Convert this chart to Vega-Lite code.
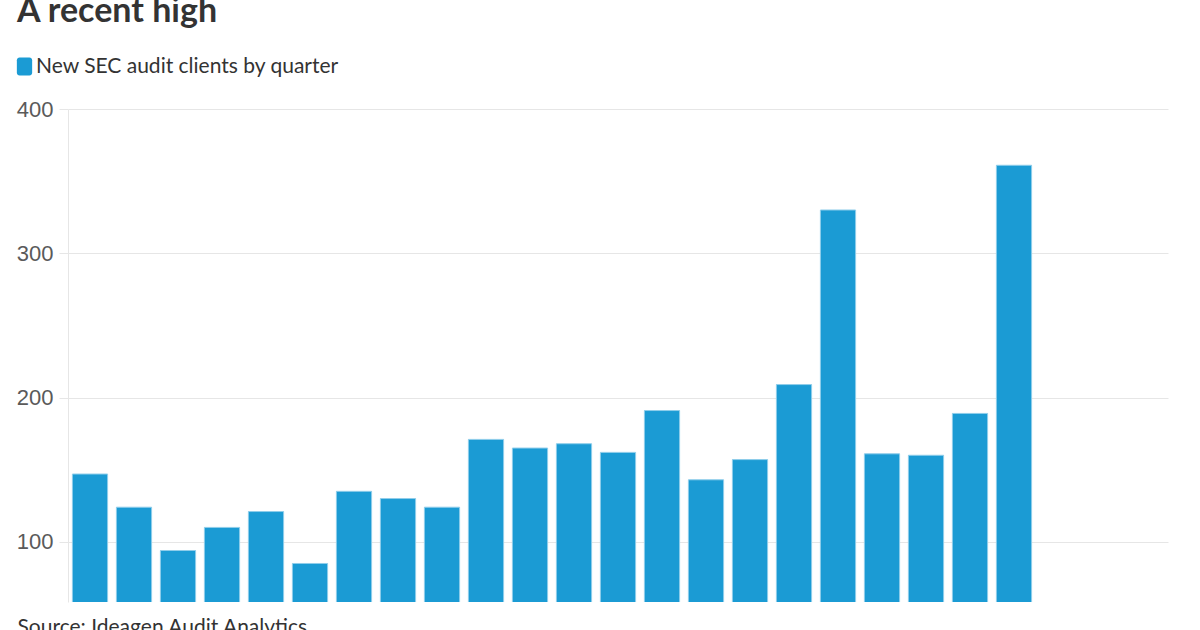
{
  "$schema": "https://vega.github.io/schema/vega-lite/v6.json",
  "width": 1100,
  "height": 493,
  "autosize": {"type": "none"},
  "padding": {"left": 68, "top": 109, "right": 32, "bottom": 28},
  "background": "#ffffff",
  "title": {
    "text": "A recent high",
    "anchor": "start",
    "frame": "group",
    "font": "Lato",
    "fontSize": 34,
    "fontWeight": "bold",
    "color": "#333333",
    "baseline": "alphabetic",
    "offset": 0,
    "dx": -51
  },
  "data": {
    "values": [
      {"quarter": "2019 Q1", "clients": 147, "series": "New SEC audit clients by quarter"},
      {"quarter": "2019 Q2", "clients": 124, "series": "New SEC audit clients by quarter"},
      {"quarter": "2019 Q3", "clients": 94, "series": "New SEC audit clients by quarter"},
      {"quarter": "2019 Q4", "clients": 110, "series": "New SEC audit clients by quarter"},
      {"quarter": "2020 Q1", "clients": 121, "series": "New SEC audit clients by quarter"},
      {"quarter": "2020 Q2", "clients": 85, "series": "New SEC audit clients by quarter"},
      {"quarter": "2020 Q3", "clients": 135, "series": "New SEC audit clients by quarter"},
      {"quarter": "2020 Q4", "clients": 130, "series": "New SEC audit clients by quarter"},
      {"quarter": "2021 Q1", "clients": 124, "series": "New SEC audit clients by quarter"},
      {"quarter": "2021 Q2", "clients": 171, "series": "New SEC audit clients by quarter"},
      {"quarter": "2021 Q3", "clients": 165, "series": "New SEC audit clients by quarter"},
      {"quarter": "2021 Q4", "clients": 168, "series": "New SEC audit clients by quarter"},
      {"quarter": "2022 Q1", "clients": 162, "series": "New SEC audit clients by quarter"},
      {"quarter": "2022 Q2", "clients": 191, "series": "New SEC audit clients by quarter"},
      {"quarter": "2022 Q3", "clients": 143, "series": "New SEC audit clients by quarter"},
      {"quarter": "2022 Q4", "clients": 157, "series": "New SEC audit clients by quarter"},
      {"quarter": "2023 Q1", "clients": 209, "series": "New SEC audit clients by quarter"},
      {"quarter": "2023 Q2", "clients": 330, "series": "New SEC audit clients by quarter"},
      {"quarter": "2023 Q3", "clients": 161, "series": "New SEC audit clients by quarter"},
      {"quarter": "2023 Q4", "clients": 160, "series": "New SEC audit clients by quarter"},
      {"quarter": "2024 Q1", "clients": 189, "series": "New SEC audit clients by quarter"},
      {"quarter": "2024 Q2", "clients": 361, "series": "New SEC audit clients by quarter"}
    ]
  },
  "mark": {"type": "bar", "color": "#1b9bd4", "stroke": "#8fcdea", "strokeWidth": 1, "clip": true},
  "encoding": {
    "x": {
      "field": "quarter",
      "type": "ordinal",
      "sort": null,
      "scale": {
        "domain": ["2019 Q1","2019 Q2","2019 Q3","2019 Q4","2020 Q1","2020 Q2","2020 Q3","2020 Q4","2021 Q1","2021 Q2","2021 Q3","2021 Q4","2022 Q1","2022 Q2","2022 Q3","2022 Q4","2023 Q1","2023 Q2","2023 Q3","2023 Q4","2024 Q1","2024 Q2","2024 Q3","2024 Q4","2025 Q1"],
        "paddingInner": 0.2,
        "paddingOuter": 0.1
      },
      "axis": {
        "title": "Source: Ideagen Audit Analytics",
        "titleFont": "Lato",
        "titleFontSize": 21,
        "titleFontWeight": "normal",
        "titleColor": "#333333",
        "titleX": -51,
        "titleAlign": "left",
        "titleAnchor": "start",
        "titlePadding": 14,
        "labels": false,
        "ticks": false,
        "domain": false,
        "grid": false
      }
    },
    "y": {
      "field": "clients",
      "type": "quantitative",
      "scale": {"domain": [58.3, 400], "nice": false, "zero": false},
      "axis": {
        "title": null,
        "values": [100, 200, 300, 400],
        "labelFont": "Liberation Sans",
        "labelFontSize": 22,
        "labelColor": "#5a5a5a",
        "labelPadding": 6,
        "tickSize": 9,
        "tickColor": "#e6e6e6",
        "domainColor": "#e6e6e6",
        "gridColor": "#e6e6e6",
        "grid": true
      }
    },
    "color": {
      "field": "series",
      "type": "nominal",
      "scale": {"range": ["#1b9bd4"]},
      "legend": {
        "title": null,
        "orient": "none",
        "legendX": -54,
        "legendY": -53,
        "symbolType": "M-0.55,-1H0.55A0.3,0.3 0 0 1 0.85,-0.7V0.7A0.3,0.3 0 0 1 0.55,1H-0.55A0.3,0.3 0 0 1 -0.85,0.7V-0.7A0.3,0.3 0 0 1 -0.55,-1Z",
        "symbolSize": 324,
        "symbolFillColor": "#0096d6",
        "symbolStrokeWidth": 0,
        "symbolOpacity": 1,
        "labelFont": "Lato",
        "labelFontSize": 21,
        "labelColor": "#333333",
        "labelOffset": 1,
        "labelLimit": 0
      }
    }
  },
  "config": {"view": {"stroke": null}}
}
